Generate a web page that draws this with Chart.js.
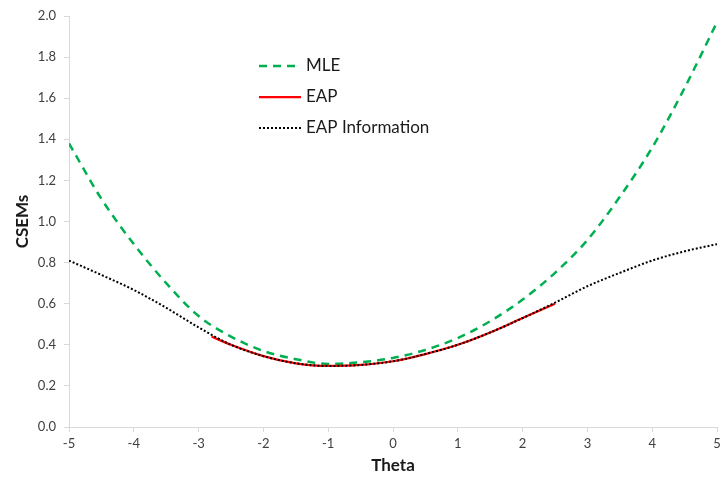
<!DOCTYPE html>
<html>
<head>
<meta charset="utf-8">
<script src="https://cdn.jsdelivr.net/npm/chart.js@4/dist/chart.umd.min.js"></script>
<style>
  html, body { margin: 0; padding: 0; background: #fff; }
  #wrap { width: 720px; height: 479px; position: relative; }
</style>
</head>
<body>
<div id="wrap"><canvas id="csemChart"></canvas></div>
<script>
const mleTheta = [-5, -4.5, -4, -3.5, -3, -2.5, -2, -1.5, -1, -0.5, 0, 0.5, 1, 1.5, 2, 2.5, 3, 3.5, 4, 4.5, 5];
const mleValues = [1.38, 1.11, 0.89, 0.70, 0.54, 0.44, 0.37, 0.33, 0.307, 0.315, 0.336, 0.375, 0.433, 0.515, 0.62, 0.75, 0.91, 1.12, 1.36, 1.65, 1.97];

const eapTheta = [-2.8, -2.5, -2, -1.5, -1, -0.5, 0, 0.5, 1, 1.5, 2, 2.5];
const eapValues = [0.44, 0.40, 0.345, 0.31, 0.297, 0.302, 0.32, 0.355, 0.40, 0.46, 0.53, 0.60];

const infoTheta = [-5, -4.5, -4, -3.5, -3, -2.5, -2, -1.5, -1, -0.5, 0, 0.5, 1, 1.5, 2, 2.5, 3, 3.5, 4, 4.5, 5];
const infoValues = [0.81, 0.74, 0.667, 0.58, 0.485, 0.40, 0.345, 0.31, 0.297, 0.302, 0.32, 0.355, 0.40, 0.46, 0.53, 0.605, 0.685, 0.75, 0.81, 0.855, 0.89];

const xTicks = [-5, -4, -3, -2, -1, 0, 1, 2, 3, 4, 5];
const yTicks = [0, 0.2, 0.4, 0.6, 0.8, 1.0, 1.2, 1.4, 1.6, 1.8, 2.0];

const toPoints = (xs, ys) => xs.map((x, i) => ({ x, y: ys[i] }));

const fontFamily = 'Lato, "Open Sans", sans-serif';
const axisColor = '#d9d9d9';
const tickColor = '#404040';

// legend drawn inside the plot, like the original
const insideLegend = {
  id: 'insideLegend',
  afterDatasetsDraw(chart) {
    const ctx = chart.ctx;
    const rows = [66, 97, 128];
    ctx.save();
    ctx.font = '17px ' + fontFamily;
    ctx.textBaseline = 'middle';
    chart.data.datasets.forEach((ds, i) => {
      const y = rows[i];
      ctx.beginPath();
      ctx.setLineDash(ds.borderDash || []);
      ctx.strokeStyle = ds.borderColor;
      ctx.lineWidth = ds.borderWidth;
      ctx.moveTo(259, y);
      ctx.lineTo(301, y);
      ctx.stroke();
      ctx.setLineDash([]);
      ctx.fillStyle = '#1a1a1a';
      ctx.fillText(ds.label, 306, y);
    });
    ctx.restore();
  }
};

new Chart(document.getElementById('csemChart'), {
  type: 'line',
  data: {
    datasets: [
      {
        label: 'MLE',
        data: toPoints(mleTheta, mleValues),
        borderColor: '#00b050',
        borderWidth: 2.5,
        borderDash: [8, 6],
        pointRadius: 0,
        cubicInterpolationMode: 'monotone',
        order: 2
      },
      {
        label: 'EAP',
        data: toPoints(eapTheta, eapValues),
        borderColor: '#ff0000',
        borderWidth: 2.25,
        pointRadius: 0,
        cubicInterpolationMode: 'monotone',
        order: 1
      },
      {
        label: 'EAP Information',
        data: toPoints(infoTheta, infoValues),
        borderColor: '#000000',
        borderWidth: 2,
        borderDash: [2, 2],
        pointRadius: 0,
        cubicInterpolationMode: 'monotone',
        order: 0
      }
    ]
  },
  options: {
    animation: false,
    responsive: true,
    maintainAspectRatio: false,
    layout: {
      padding: { top: 16, right: 0, left: 0, bottom: 0 }
    },
    plugins: {
      legend: { display: false },
      tooltip: { enabled: false }
    },
    scales: {
      x: {
        type: 'linear',
        min: -5,
        max: 5,
        afterBuildTicks: scale => { scale.ticks = xTicks.map(value => ({ value })); },
        afterFit: scale => {
          scale.height = 52;
          scale.paddingRight = 3;
        },
        border: { color: axisColor, width: 1 },
        grid: { drawOnChartArea: false, drawTicks: true, tickLength: 5, color: axisColor },
        ticks: {
          color: tickColor,
          font: { family: fontFamily, size: 13 },
          padding: 4,
          maxRotation: 0
        },
        title: {
          display: true,
          text: 'Theta',
          color: '#1a1a1a',
          font: { family: fontFamily, size: 17, weight: 'bold' },
          padding: { top: 2, bottom: 3 }
        }
      },
      y: {
        type: 'linear',
        min: 0,
        max: 2,
        afterBuildTicks: scale => { scale.ticks = yTicks.map(value => ({ value })); },
        afterFit: scale => { scale.width = 69; },
        border: { color: axisColor, width: 1 },
        grid: { drawOnChartArea: false, drawTicks: true, tickLength: 5, color: axisColor },
        ticks: {
          color: tickColor,
          font: { family: fontFamily, size: 13 },
          padding: 8,
          callback: value => Number(value).toFixed(1)
        },
        title: {
          display: true,
          text: 'CSEMs',
          color: '#1a1a1a',
          font: { family: fontFamily, size: 17, weight: 'bold' },
          padding: { top: 12, bottom: 4 }
        }
      }
    }
  },
  plugins: [insideLegend]
});
</script>
</body>
</html>
